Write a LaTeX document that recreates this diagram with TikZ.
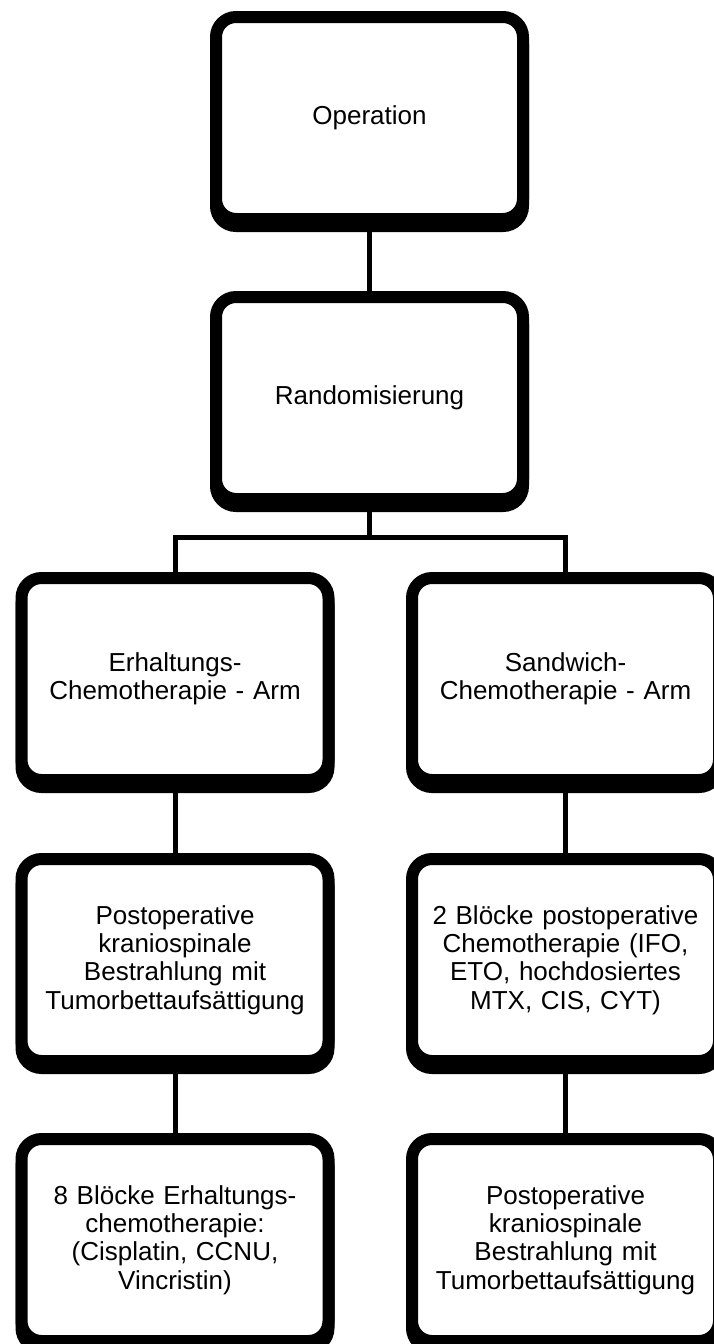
\documentclass[tikz,border=0pt]{standalone}
\usepackage{fontspec}
\setmainfont{Liberation Sans}
\usetikzlibrary{positioning}

\tikzset{
  stage/.style={draw, fill=white, line width=12pt, rounded corners=20pt,
    outer sep=0pt, inner sep=0pt, minimum width=307pt, minimum height=202pt,
    text width=295pt, align=center, font=\fontsize{26}{28.3}\selectfont,
    preaction={draw=black, line width=12pt, transform canvas={yshift=-7pt}}},
  link/.style={line width=5pt}
}

\begin{document}
\begin{tikzpicture}
\useasboundingbox[fill=white] (0,0) rectangle (713pt,-1344pt);

\node[stage] (op) at (369.5pt,-118pt) {Operation};
\node[stage, below=78pt of op] (rand) {Randomisierung};

% two arms
\node[stage, below=79pt of rand, xshift=-194.5pt] (armL) {Erhaltungs-\\Chemotherapie - Arm};
\node[stage, below=79pt of rand, xshift=196pt] (armR) {Sandwich-\\Chemotherapie - Arm};

\node[stage, below=79pt of armL] (radL) {Postoperative\\kraniospinale\\Bestrahlung mit\\Tumorbettaufsättigung};
\node[stage, below=79pt of armR] (chemoR) {2 Blöcke postoperative\\Chemotherapie (IFO,\\ETO, hochdosiertes\\MTX, CIS, CYT)};

\node[stage, below=78pt of radL] (maintL) {8 Blöcke Erhaltungs-\\chemotherapie:\\(Cisplatin, CCNU,\\Vincristin)};
\node[stage, below=78pt of chemoR] (radR) {Postoperative\\kraniospinale\\Bestrahlung mit\\Tumorbettaufsättigung};

% connectors
\draw[link] (op.south)--(rand.north);
\draw[link] (rand.south)--++(0,-38pt) coordinate (fork);
\draw[link] (fork) -| (armL.north);
\draw[link] (fork) -| (armR.north);
\draw[link] (armL.south)--(radL.north);
\draw[link] (radL.south)--(maintL.north);
\draw[link] (armR.south)--(chemoR.north);
\draw[link] (chemoR.south)--(radR.north);
\end{tikzpicture}
\end{document}
